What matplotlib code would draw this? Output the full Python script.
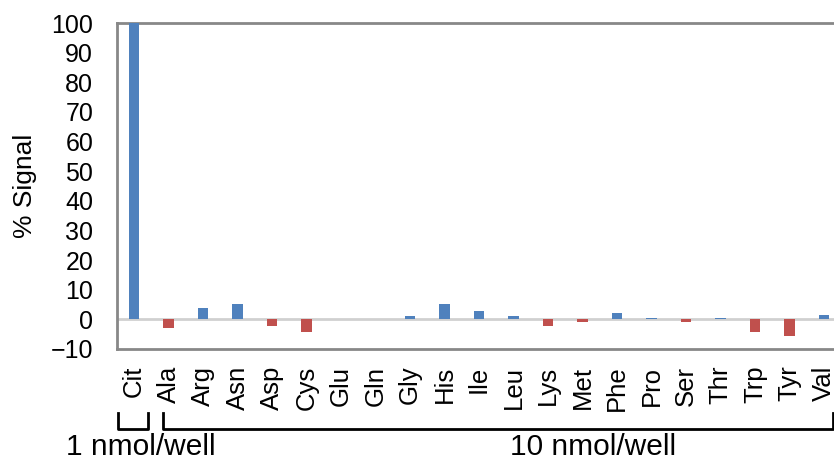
import matplotlib.pyplot as plt
import matplotlib.transforms as mtransforms
import numpy as np

plt.rcParams['font.family'] = ['Liberation Sans', 'DejaVu Sans']

labels = ['Cit', 'Ala', 'Arg', 'Asn', 'Asp', 'Cys', 'Glu', 'Gln', 'Gly', 'His',
          'Ile', 'Leu', 'Lys', 'Met', 'Phe', 'Pro', 'Ser', 'Thr', 'Trp', 'Tyr', 'Val']
signal = [100, -3.0, 4.0, 5.3, -2.3, -4.3, 0.0, 0.0, 1.0, 5.3,
          2.8, 1.0, -2.3, -1.0, 2.2, 0.5, -1.0, 0.5, -4.3, -5.7, 1.6]

blue = '#4F81BD'
red = '#C0504D'

x = np.arange(len(labels))
colors = [blue if v >= 0 else red for v in signal]

fig = plt.figure(figsize=(8.34, 4.62), dpi=100)
ax = fig.add_axes([0.140, 0.2446, 0.862, 0.7056])

ax.bar(x, signal, width=0.3, color=colors, zorder=3)
ax.axhline(0, color='#D0D0D0', lw=2, zorder=2)

ax.set_xlim(-0.5, 20.34)
ax.set_ylim(-10, 100)
ax.set_yticks(np.arange(-10, 101, 10))
ax.set_xticks(x)
ax.set_xticklabels(labels, rotation=90, fontsize=18.5)
ax.tick_params(axis='y', length=0, pad=17, labelsize=18)
ax.tick_params(axis='x', length=0, pad=12)
ax.set_ylabel('% Signal', fontsize=19, labelpad=10)

for s in ['left', 'bottom', 'top']:
    ax.spines[s].set_color('#888888')
    ax.spines[s].set_linewidth(2)
ax.spines['right'].set_visible(False)

# group brackets under the tick labels
trans = mtransforms.blended_transform_factory(ax.transData, ax.transAxes)
y_top, y_bot = -0.196, -0.245
for x0, x1 in [(-0.45, 0.40), (0.85, 20.25)]:
    ax.plot([x0, x0, x1, x1], [y_top, y_bot, y_bot, y_top], color='black',
            lw=2, transform=trans, clip_on=False)

ax.text(0.2, -0.325, '1 nmol/well', transform=trans, ha='center', va='baseline', fontsize=21.5)
ax.text(13.3, -0.325, '10 nmol/well', transform=trans, ha='center', va='baseline', fontsize=21.5)

fig.savefig('out.png', dpi=100)
